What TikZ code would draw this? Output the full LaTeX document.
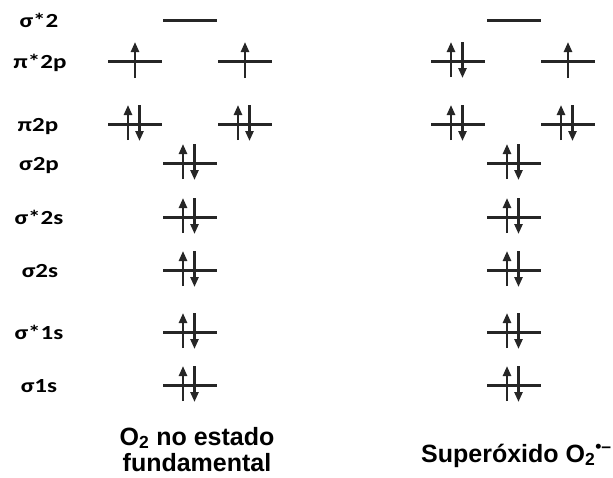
\documentclass[tikz,border=0pt]{standalone}
\usepackage{fontspec}
\setmainfont{Liberation Sans}
\newfontfamily\orbfont{Carlito}
\usetikzlibrary{arrows.meta}

\tikzset{
  level/.style={line width=3pt, black!85, line cap=butt},
  spin/.style={line width=2.4pt, black!85, -{Triangle[width=8pt,length=10pt]}},
  orblabel/.style={font=\orbfont\bfseries\fontsize{20}{20}\selectfont, xscale=1.25,
                   anchor=base, yshift=-7.5pt},
  caption/.style={font=\bfseries\fontsize{25}{25}\selectfont, inner sep=0pt},
  emptylevel/.pic={\draw[level] (-27,0) -- (27,0);},
  singlelevel/.pic={\draw[level] (-27,0) -- (27,0);
                    \draw[spin] (0,17) -- (0,-19);},
  pairlevel/.pic={\draw[level] (-27,0) -- (27,0);
                  \draw[spin] (-7,16) -- (-7,-19);
                  \draw[spin] (4.5,-19) -- (4.5,17);}
}

\begin{document}
\begin{tikzpicture}[x=1pt, y=-1pt]
\useasboundingbox (0,0) rectangle (613,477);

% orbital names
\node[orblabel] (l1) at (39,20)  {σ*2};
\node[orblabel] (l2) at (40,61)  {π*2p};
\node[orblabel] (l3) at (38,124) {π2p};
\node[orblabel] (l4) at (39,163) {σ2p};
\node[orblabel] (l5) at (39,217) {σ*2s};
\node[orblabel] (l6) at (40,270) {σ2s};
\node[orblabel] (l7) at (39,332) {σ*1s};
\node[orblabel] (l8) at (39,385) {σ1s};

% O2 ground state
\pic at (190,20)  {emptylevel};
\pic at (135,61)  {singlelevel};
\pic at (245,61)  {singlelevel};
\pic at (135,124) {pairlevel};
\pic at (245,124) {pairlevel};
\foreach \y in {163,217,270,332,385} \pic at (190,\y) {pairlevel};

% superoxide
\pic at (514,20)  {emptylevel};
\pic at (458,61)  {pairlevel};
\pic at (568,61)  {singlelevel};
\pic at (458,124) {pairlevel};
\pic at (568,124) {pairlevel};
\foreach \y in {163,217,270,332,385} \pic at (514,\y) {pairlevel};

% captions
\node[caption, anchor=base] (c1) at (197,445) {O\textsubscript{2} no estado};
\node[caption, anchor=base] (c2) at (197,471) {fundamental};
\node[caption, anchor=base west] (c3) at (421,462) {Superóxido O\textsubscript{2}\textsuperscript{•–}};
\end{tikzpicture}
\end{document}
